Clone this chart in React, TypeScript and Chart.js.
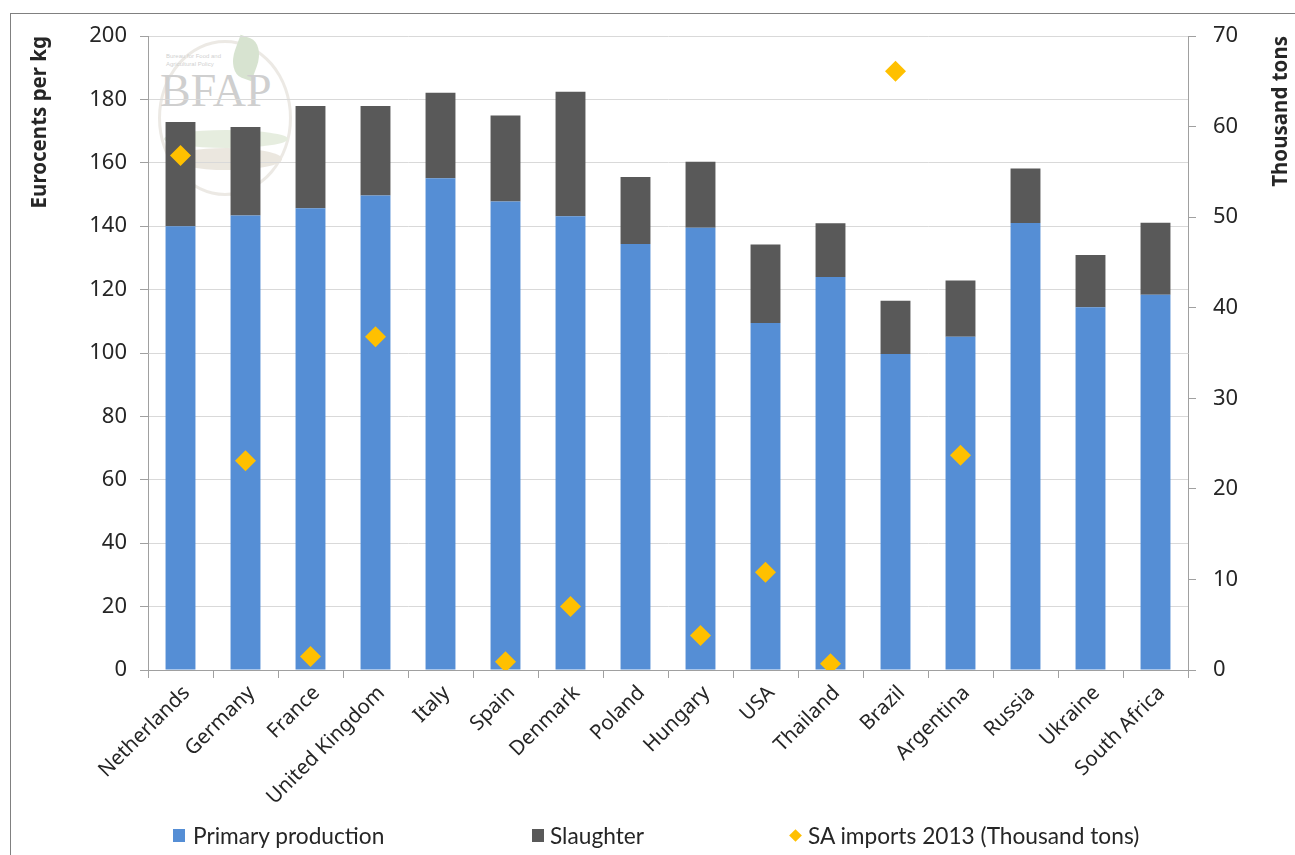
import React, { useEffect, useRef } from 'react';
import { Chart, registerables } from 'chart.js';

Chart.register(...registerables);

const categories = [
  'Netherlands', 'Germany', 'France', 'United Kingdom', 'Italy', 'Spain', 'Denmark', 'Poland',
  'Hungary', 'USA', 'Thailand', 'Brazil', 'Argentina', 'Russia', 'Ukraine', 'South Africa',
];
const primaryProduction = [140.0, 143.4, 145.7, 149.7, 155.1, 147.8, 143.1, 134.4, 139.5, 109.5, 124.0, 99.7, 105.1, 141.0, 114.4, 118.4];
const slaughter = [32.9, 27.9, 32.2, 28.2, 27.0, 27.1, 39.3, 21.1, 20.8, 24.7, 16.9, 16.8, 17.8, 17.2, 16.5, 22.7];
const saImports2013 = [56.8, 23.1, 1.5, 36.8, null, 0.9, 7.0, null, 3.8, 10.8, 0.7, 66.1, 23.7, null, null, null];

const leftTicks = [0, 20, 40, 60, 80, 100, 120, 140, 160, 180, 200];
const rightTicks = [0, 10, 20, 30, 40, 50, 60, 70];

const BLUE = '#558ED5';
const GREY = '#595959';
const GOLD = '#FFC000';
const TEXT = '#262626';
const AXIS = '#a0a0a0';
const GRID = '#d9d9d9';
const FONT = "'Noto Sans', 'Open Sans', sans-serif";

const rightTitlePlugin = {
  id: 'rightTitle',
  afterDraw(chart: any) {
    const ctx = chart.ctx;
    const s = chart.scales.y1;
    ctx.save();
    ctx.font = `bold 20.5px ${FONT}`;
    ctx.fillStyle = TEXT;
    ctx.translate(1281, s.top);
    ctx.rotate(-Math.PI / 2);
    ctx.textAlign = 'right';
    ctx.textBaseline = 'middle';
    ctx.fillText('Thousand tons', 0, 0);
    ctx.restore();
  },
};

export default function App() {
  const ref = useRef<HTMLCanvasElement>(null);

  useEffect(() => {
    const chart = new Chart(ref.current as HTMLCanvasElement, {
      type: 'bar',
      data: {
        labels: categories,
        datasets: [
          {
            type: 'line',
            label: 'SA imports 2013 (Thousand tons)',
            data: saImports2013 as any,
            yAxisID: 'y1',
            showLine: false,
            pointStyle: 'rectRot',
            pointRadius: 10.5,
            pointBackgroundColor: GOLD,
            pointBorderColor: GOLD,
            pointBorderWidth: 0,
            borderColor: GOLD,
            backgroundColor: GOLD,
            order: 0,
          } as any,
          {
            type: 'bar',
            label: 'Primary production',
            data: primaryProduction,
            backgroundColor: BLUE,
            yAxisID: 'y',
            stack: 's',
            order: 1,
            barPercentage: 0.46,
            categoryPercentage: 1,
          },
          {
            type: 'bar',
            label: 'Slaughter',
            data: slaughter,
            backgroundColor: GREY,
            yAxisID: 'y',
            stack: 's',
            order: 1,
            barPercentage: 0.46,
            categoryPercentage: 1,
          },
        ],
      },
      options: {
        responsive: false,
        animation: false,
        layout: { padding: { left: 10, top: 36, right: 0, bottom: 0 } },
        plugins: {
          legend: { display: false },
          tooltip: { enabled: false },
        },
        scales: {
          x: {
            stacked: true,
            offset: true,
            grid: {
              offset: true,
              drawOnChartArea: false,
              drawTicks: true,
              tickLength: 8,
              tickColor: AXIS,
            },
            border: { display: true, color: AXIS, width: 1 },
            ticks: {
              maxRotation: 45,
              minRotation: 45,
              padding: 3,
              labelOffset: 6,
              color: TEXT,
              font: { family: FONT, size: 20.5 },
            },
            afterFit: (s: any) => { s.height = 185; },
          },
          y: {
            type: 'linear',
            position: 'left',
            stacked: true,
            min: 0,
            max: 200,
            afterBuildTicks: (s: any) => { s.ticks = leftTicks.map((v) => ({ value: v })); },
            grid: { color: GRID, tickColor: AXIS, tickLength: 8 },
            border: { display: true, color: AXIS, width: 1 },
            ticks: { color: TEXT, padding: 13, font: { family: FONT, size: 22 } },
            title: {
              display: true,
              text: 'Eurocents per kg',
              align: 'end',
              color: TEXT,
              padding: { top: 18, bottom: 0 },
              font: { family: FONT, size: 20.5, weight: 'bold' },
            },
            afterFit: (s: any) => { s.width = 138; },
          },
          y1: {
            type: 'linear',
            position: 'right',
            min: 0,
            max: 70,
            afterBuildTicks: (s: any) => { s.ticks = rightTicks.map((v) => ({ value: v })); },
            grid: { drawOnChartArea: false, tickColor: AXIS, tickLength: 8 },
            border: { display: true, color: AXIS, width: 1 },
            ticks: { color: TEXT, padding: 17, font: { family: FONT, size: 22 } },
            title: { display: false },
            afterFit: (s: any) => { s.width = 107; },
          },
        },
      },
      plugins: [rightTitlePlugin],
    });
    return () => chart.destroy();
  }, []);

  const legendFont: React.CSSProperties = {
    position: 'absolute',
    fontFamily: "Lato, 'Open Sans', sans-serif",
    fontSize: 22.7,
    color: TEXT,
    lineHeight: '26px',
    top: 823,
    whiteSpace: 'nowrap',
  };

  return (
    <div style={{ position: 'fixed', left: 0, top: 0, width: 1295, height: 855, background: '#fff', overflow: 'hidden' }}>
      <div style={{ position: 'absolute', left: 10, top: 13, width: 1300, height: 900, border: '1px solid #808080', boxSizing: 'border-box' }} />
      {/* faint BFAP watermark */}
      <div style={{ position: 'absolute', left: 158, top: 40, width: 138, height: 160, opacity: 0.35, pointerEvents: 'none' }}>
        <div style={{ position: 'absolute', left: 0, top: 0, width: 134, height: 156, borderRadius: '50%', border: '3px solid #c9c2b5', boxSizing: 'border-box' }} />
        <div style={{ position: 'absolute', left: 75, top: -2, width: 26, height: 40, borderRadius: '0 60% 0 60%', background: '#8fb27a', transform: 'rotate(20deg)' }} />
        <div style={{ position: 'absolute', left: 8, top: 12, fontFamily: "'Liberation Sans', sans-serif", fontSize: 6, lineHeight: '8px', color: '#777' }}>
          Bureau for Food and<br />Agricultural Policy
        </div>
        <div style={{ position: 'absolute', left: 2, top: 26, fontFamily: "'Liberation Serif', serif", fontSize: 46, lineHeight: '50px', color: '#777' }}>BFAP</div>
        <div style={{ position: 'absolute', left: 6, top: 90, width: 124, height: 18, borderRadius: '50%', background: '#b9cda6' }} />
        <div style={{ position: 'absolute', left: 14, top: 108, width: 110, height: 22, borderRadius: '50%', background: '#c8bba6' }} />
      </div>
      <canvas ref={ref} width={1295} height={855} style={{ position: 'absolute', left: 0, top: 0, display: 'block' }} />
      {/* legend */}
      <div style={{ position: 'absolute', left: 173, top: 829, width: 12, height: 13, background: BLUE }} />
      <div style={{ ...legendFont, left: 193 }}>Primary production</div>
      <div style={{ position: 'absolute', left: 532, top: 829, width: 12, height: 13, background: GREY }} />
      <div style={{ ...legendFont, left: 550 }}>Slaughter</div>
      <div style={{ position: 'absolute', left: 791, top: 831, width: 9, height: 9, background: GOLD, transform: 'rotate(45deg)' }} />
      <div style={{ ...legendFont, left: 808 }}>SA imports 2013 (Thousand tons)</div>
    </div>
  );
}
